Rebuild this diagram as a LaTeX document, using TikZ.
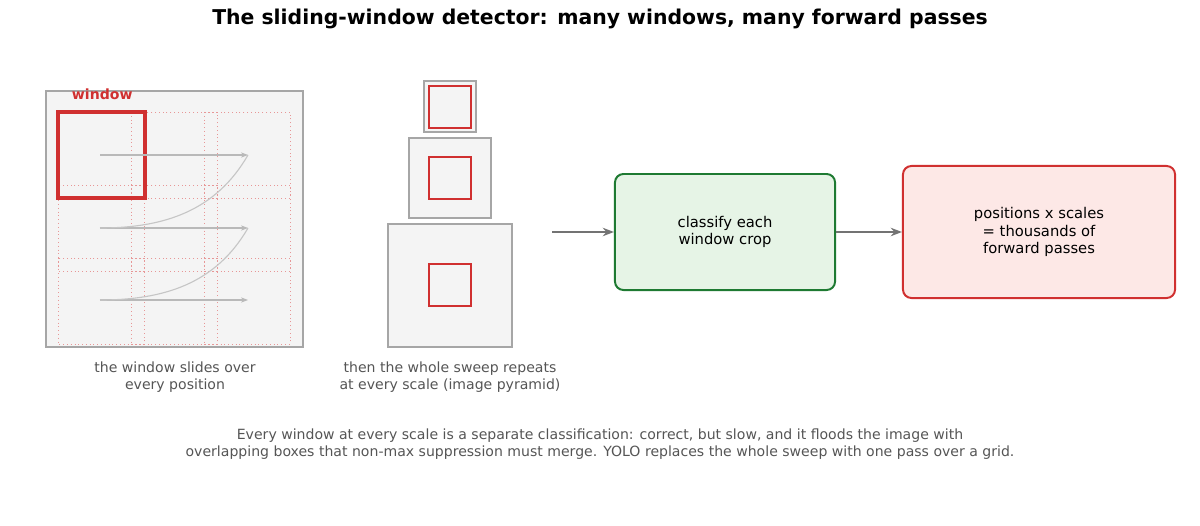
\documentclass[tikz,border=0pt]{standalone}
\usepackage{fontspec}
\setmainfont{DejaVu Sans}
\usetikzlibrary{positioning, arrows.meta}
\definecolor{wred}{HTML}{D03030}
\definecolor{wgreen}{HTML}{1E7A32}
\definecolor{gfill}{HTML}{E6F4E6}
\definecolor{rfill}{HTML}{FDE8E6}
\definecolor{panel}{HTML}{F4F4F4}
\definecolor{txtgray}{HTML}{555555}
\tikzset{
  panel/.style={draw=gray!70, line width=1pt, fill=panel},
  slot/.style={draw=wred!50, dotted, line width=0.7pt},
  win/.style={draw=wred, line width=1.5pt},
  sweep/.style={draw=gray!55, line width=0.9pt, -{Stealth[length=5pt]}},
  flow/.style={draw=gray!90!black, line width=2pt, -{Stealth[length=8pt]}},
  box/.style={rounded corners=6pt, line width=1.4pt, align=center, minimum width=5.5cm, minimum height=2.9cm, font=\fontsize{10.5}{12.5}\selectfont},
  caption/.style={text=txtgray, align=center, font=\fontsize{10}{12}\selectfont},
}
\begin{document}
\begin{tikzpicture}[x=0.025cm, y=-0.025cm]
  \useasboundingbox (0,0) rectangle (1200,525);
  \node[font=\bfseries\fontsize{14.5}{17}\selectfont] (title) at (600,19) {The sliding-window detector: many windows, many forward passes};

  % sliding panel
  \draw[panel] (46,91) rectangle (303,347);
  \foreach \i in {0,1,2} {
    \foreach \j in {0,1,2} {
      \draw[slot] ({58+73*\i},{112+73*\j}) rectangle ++(86,86);
    }
  }
  \draw[win, line width=2.2pt] (58,112) rectangle (145,198);
  \node[text=wred, font=\bfseries\fontsize{10}{12}\selectfont, anchor=west] (wlabel) at (67,94) {window};
  \foreach \y in {155,228,300} {
    \coordinate (s\y) at (100,\y);
    \coordinate (e\y) at (248,\y);
    \draw[sweep] (s\y) -- (e\y);
  }
  \draw[draw=gray!45, line width=0.8pt] (s228) to[out=0, in=240] (e155);
  \draw[draw=gray!45, line width=0.8pt] (s300) to[out=0, in=240] (e228);
  \node[caption] (cap1) at (175,377) {the window slides over\\every position};

  % pyramid
  \draw[panel] (424,81) rectangle (476,132);
  \draw[win] (429,86) rectangle (471,128);
  \draw[panel] (409,138) rectangle (491,218);
  \draw[win] (429,157) rectangle (471,199);
  \draw[panel] (388,224) rectangle (512,347);
  \draw[win] (429,264) rectangle (471,306);
  \node[caption] (cap2) at (450,377) {then the whole sweep repeats\\at every scale (image pyramid)};

  % flow
  \coordinate (pyr) at (552,232);
  \node[box, draw=wgreen, fill=gfill] (classify) at (725,232) {classify each\\window crop};
  \node[box, draw=wred, fill=rfill, minimum width=6.8cm, minimum height=3.3cm] (cost) at (1039,232) {positions x scales\\= thousands of\\forward passes};
  \draw[flow] (pyr) -- (classify);
  \draw[flow] (classify) -- (cost);

  \node[caption] (note) at (600,444) {Every window at every scale is a separate classification: correct, but slow, and it floods the image with\\overlapping boxes that non-max suppression must merge. YOLO replaces the whole sweep with one pass over a grid.};
\end{tikzpicture}
\end{document}
